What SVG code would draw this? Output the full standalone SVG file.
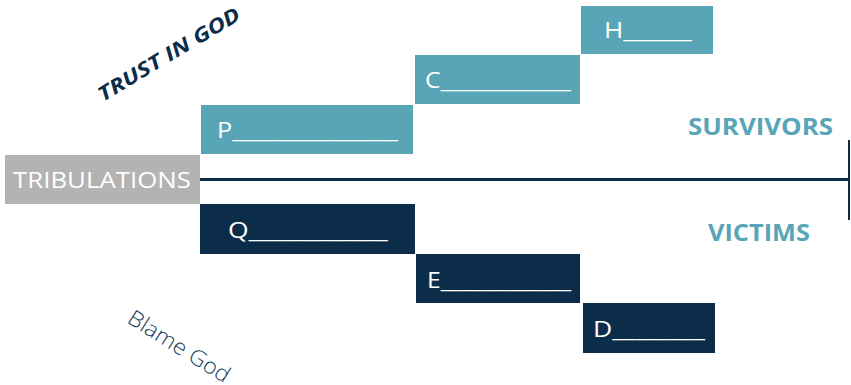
<svg xmlns="http://www.w3.org/2000/svg" width="851" height="385" viewBox="0 0 851 385">
<style>
.lt{fill:#58a5b8}
.dk{fill:#0b2d4a}
.lbl{font-family:"Open Sans","Liberation Sans",sans-serif;font-size:21px;fill:#ffffff}
.side{font-family:"Open Sans","Liberation Sans",sans-serif;font-size:23px;font-weight:bold;fill:#58a5b8}
</style>
<rect width="851" height="385" fill="#ffffff"/>
<g id="connectors">
<line x1="200" y1="179.5" x2="849" y2="179.5" stroke="#0b2d4a" stroke-width="3"/>
<line x1="849" y1="140" x2="849" y2="220" stroke="#0b2d4a" stroke-width="2"/>
</g>
<g id="tribulations">
<rect x="5" y="155" width="195" height="49" fill="#b3b3b3"/>
<text x="102" y="188" font-family="'Open Sans','Liberation Sans',sans-serif" font-size="21" fill="#ffffff" text-anchor="middle" textLength="178" lengthAdjust="spacingAndGlyphs">TRIBULATIONS</text>
</g>
<g id="P">
<rect class="lt" x="201" y="105" width="212" height="49"/>
<text class="lbl" x="217" y="138" textLength="181" lengthAdjust="spacingAndGlyphs">P_______________</text>
</g>
<g id="C">
<rect class="lt" x="415" y="55" width="165" height="49"/>
<text class="lbl" x="425" y="88" textLength="146" lengthAdjust="spacingAndGlyphs">C____________</text>
</g>
<g id="H">
<rect class="lt" x="581" y="6" width="132" height="48"/>
<text class="lbl" x="604" y="38" textLength="88" lengthAdjust="spacingAndGlyphs">H______</text>
</g>
<g id="Q">
<rect class="dk" x="200" y="204" width="215" height="50"/>
<text class="lbl" x="228" y="238" textLength="160" lengthAdjust="spacingAndGlyphs">Q____________</text>
</g>
<g id="E">
<rect class="dk" x="416" y="254" width="164" height="49"/>
<text class="lbl" x="427" y="288" textLength="144" lengthAdjust="spacingAndGlyphs">E____________</text>
</g>
<g id="D">
<rect class="dk" x="583" y="303" width="132" height="50"/>
<text class="lbl" x="593" y="337" textLength="112" lengthAdjust="spacingAndGlyphs">D________</text>
</g>
<g id="survivors">
<text class="side" x="688" y="135" textLength="145" lengthAdjust="spacingAndGlyphs">SURVIVORS</text>
</g>
<g id="victims">
<text class="side" x="708" y="241" textLength="102" lengthAdjust="spacingAndGlyphs">VICTIMS</text>
</g>
<g id="trust">
<text x="0" y="0" transform="translate(103,102) rotate(-31)" font-family="'Open Sans','Liberation Sans',sans-serif" font-size="20" font-weight="bold" font-style="italic" fill="#0b2d4a" textLength="162" lengthAdjust="spacingAndGlyphs">TRUST IN GOD</text>
</g>
<g id="blame">
<text x="0" y="0" transform="translate(126,322) rotate(32)" font-family="'Open Sans','Liberation Sans',sans-serif" font-size="22" font-weight="300" fill="#163f60" textLength="116" lengthAdjust="spacingAndGlyphs">Blame God</text>
</g>
</svg>
